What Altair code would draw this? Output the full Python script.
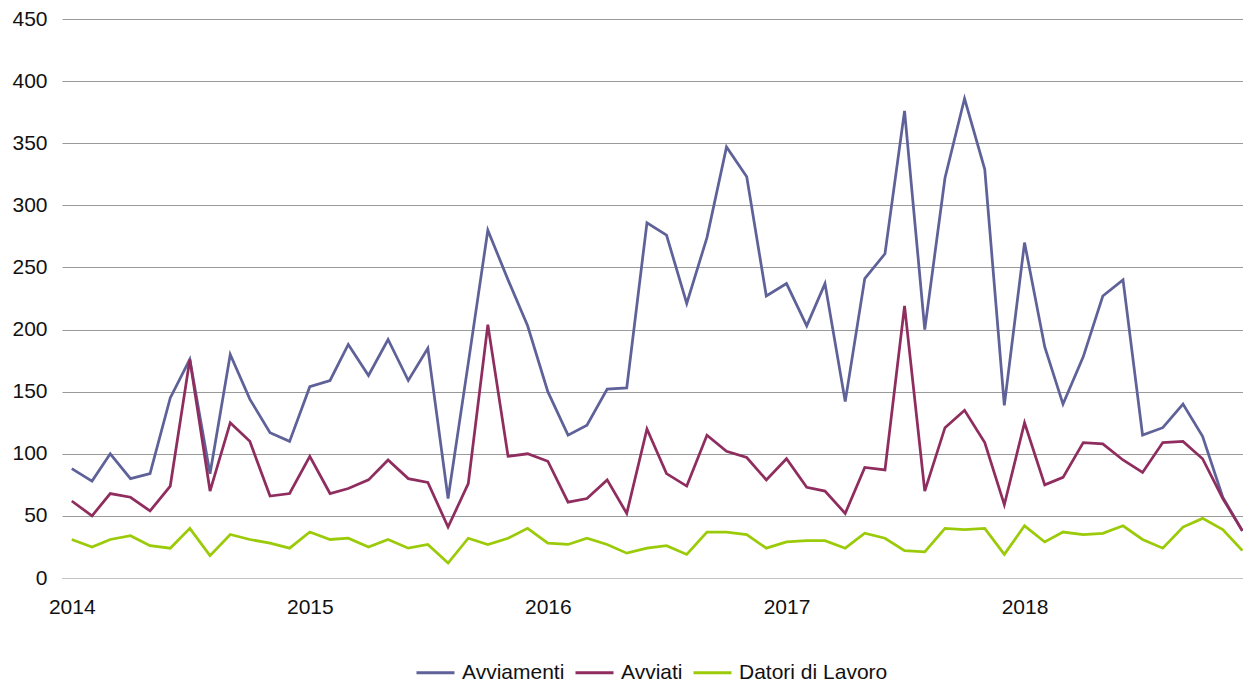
import altair as alt
import pandas as pd

# Monthly values, Jan 2014 .. Dec 2018
months = [f"{y}-{m:02d}-01" for y in range(2014, 2019) for m in range(1, 13)]

avviamenti = [
    88, 78, 100, 80, 84, 145, 176, 84, 180, 144, 117, 110,
    154, 159, 188, 163, 192, 159, 185, 64, 173, 280, 240, 203,
    150, 115, 123, 152, 153, 286, 276, 221, 274, 347, 323, 227,
    237, 203, 237, 142, 241, 261, 376, 200, 322, 386, 329, 139,
    270, 186, 140, 178, 227, 240, 115, 121, 140, 114, 65, 38,
]
avviati = [
    62, 50, 68, 65, 54, 74, 176, 70, 125, 110, 66, 68,
    98, 68, 72, 79, 95, 80, 77, 41, 76, 204, 98, 100,
    94, 61, 64, 79, 52, 120, 84, 74, 115, 102, 97, 79,
    96, 73, 70, 52, 89, 87, 219, 70, 121, 135, 109, 59,
    125, 75, 81, 109, 108, 95, 85, 109, 110, 96, 64, 38,
]
datori = [
    31, 25, 31, 34, 26, 24, 40, 18, 35, 31, 28, 24,
    37, 31, 32, 25, 31, 24, 27, 12, 32, 27, 32, 40,
    28, 27, 32, 27, 20, 24, 26, 19, 37, 37, 35, 24,
    29, 30, 30, 24, 36, 32, 22, 21, 40, 39, 40, 19,
    42, 29, 37, 35, 36, 42, 31, 24, 41, 48, 39, 22,
]

series_names = ["Avviamenti", "Avviati", "Datori di Lavoro"]
series_colors = ["#5F6199", "#8F2D5F", "#9BCB08"]
year_ticks = [2014, 2015, 2016, 2017, 2018]
y_ticks = list(range(0, 451, 50))

rows = []
for name, vals in zip(series_names, [avviamenti, avviati, datori]):
    for d, v in zip(months, vals):
        rows.append({"date": d, "serie": name, "valore": v})
df = pd.DataFrame(rows)

FONT = "Liberation Sans"

chart = (
    alt.Chart(df)
    .mark_line(strokeWidth=2.75, strokeJoin="miter")
    .encode(
        x=alt.X(
            "date:T",
            title=None,
            scale=alt.Scale(
                type="utc",
                domain=[
                    alt.DateTime(year=2013, month=12, date=17, utc=True),
                    alt.DateTime(year=2018, month=12, date=2, utc=True),
                ],
            ),
            axis=alt.Axis(
                values=[alt.DateTime(year=y, month=1, date=1, utc=True) for y in year_ticks],
                format="%Y",
                formatType="utc",
                grid=False,
                ticks=False,
                domain=True,
                domainColor="#c4c4c4",
                domainWidth=1,
                labelPadding=18,
                labelAlign="center",
                zindex=1,
            ),
        ),
        y=alt.Y(
            "valore:Q",
            title=None,
            scale=alt.Scale(domain=[0, 450], nice=False),
            axis=alt.Axis(
                values=y_ticks,
                grid=True,
                gridColor="#9a9a9a",
                gridWidth=1,
                ticks=False,
                domain=False,
                labelPadding=15,
            ),
        ),
        color=alt.Color(
            "serie:N",
            scale=alt.Scale(domain=series_names, range=series_colors),
            legend=alt.Legend(
                title=None,
                orient="none",
                legendX=353,
                legendY=633,
                direction="horizontal",
                columns=3,
                symbolType="stroke",
                symbolSize=1444,
                symbolStrokeWidth=3,
                labelOffset=6,
                columnPadding=4,
                padding=0,
            ),
        ),
    )
    .properties(
        width=1181,
        height=559,
        padding={"left": 54, "top": 11, "right": 0, "bottom": 104},
        autosize="none",
    )
    .configure_view(stroke=None)
    .configure_axis(labelFont=FONT, labelFontSize=21, labelColor="#111111")
    .configure_legend(labelFont=FONT, labelFontSize=21, labelColor="#111111")
)

chart.save("out.html", embed_options={"renderer": "svg", "actions": False})
